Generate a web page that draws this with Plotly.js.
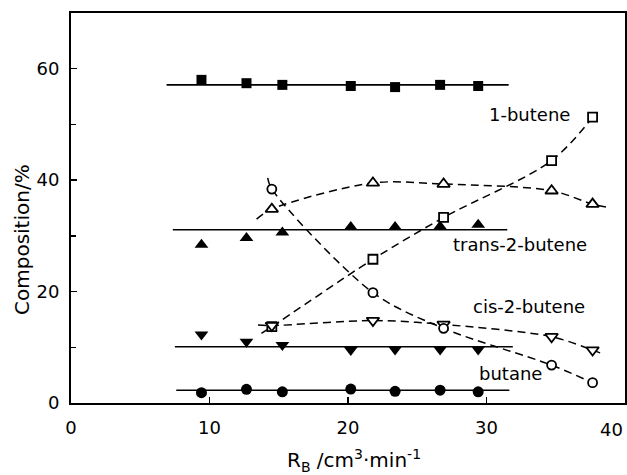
<!DOCTYPE html>
<html>
<head>
<meta charset="utf-8">
<script src="https://cdn.plot.ly/plotly-3.0.1.min.js"></script>
<style>
  html, body { margin: 0; padding: 0; background: #fff; }
  #chart { width: 627px; height: 475px; }
</style>
</head>
<body>
<div id="chart"></div>
<script>
// Flow rates (R_B, cm3/min) of the two measurement sets
const filledX = [9.42, 12.67, 15.26, 20.2, 23.4, 26.65, 29.4];
const openX   = [14.5, 21.8, 26.9, 34.7, 37.66];

// Filled symbols (steady composition, %)
const sqFilled     = [58.0, 57.4, 57.1, 56.9, 56.7, 57.1, 56.9];
const triFilled    = [28.4, 29.6, 30.6, 31.6, 31.6, 31.7, 32.0];
const invTriFilled = [12.3, 11.0, 10.4, 9.5, 9.6, 9.6, 9.6];
const circFilled   = [1.85, 2.45, 2.0, 2.5, 2.1, 2.3, 2.0];

// Horizontal mean lines for the filled sets: level, start, end
const flatLevel = [57.1, 31.1, 10.1, 2.3];
const flatStart = [6.9, 7.35, 7.5, 7.6];
const flatEnd   = [31.6, 31.5, 31.9, 31.65];

// Open symbols (composition, %)
const sqOpen     = [13.7, 25.8, 33.3, 43.5, 51.3];
const triOpen    = [34.8, 39.5, 39.3, 38.1, 35.7];
const invTriOpen = [13.9, 14.8, 14.1, 11.9, 9.5];
const circOpen   = [38.4, 19.8, 13.4, 6.8, 3.65];

// Trend-curve end knots [x, y] for the open sets
const sqCurveStart = [13.75, 12.5],  sqCurveEnd = [37.9, 52.2];
const triCurveStart = [13.4, 33.0],  triCurveEnd = [38.8, 35.1];
const invCurveStart = [13.5, 14.0],  invCurveEnd = [38.3, 8.9];
const circCurveStart = [14.2, 40.4], circCurveEnd = [38.1, 3.2];

// Curve labels [text, x, y]
const labelText = ['1-butene', 'trans-2-butene', 'cis-2-butene', 'butane'];
const labelX = [33.07, 32.4, 33.1, 31.7];
const labelY = [51.7, 28.4, 17.3, 5.3];

const FONT = 'DejaVu Sans, sans-serif';
const INK = '#000';

const traces = [];

// Solid mean lines
flatLevel.forEach((lv, i) => {
  traces.push({
    x: [flatStart[i], flatEnd[i]], y: [lv, lv],
    mode: 'lines', line: {color: INK, width: 1.6},
    hoverinfo: 'skip', showlegend: false
  });
});

// Dashed trend curves
function curve(start, xs, ys, end) {
  return {
    x: [start[0]].concat(xs, [end[0]]),
    y: [start[1]].concat(ys, [end[1]]),
    mode: 'lines',
    line: {color: INK, width: 1.5, dash: '8px,5px', shape: 'spline', smoothing: 0.9},
    hoverinfo: 'skip', showlegend: false
  };
}
traces.push(curve(sqCurveStart, openX, sqOpen, sqCurveEnd));
traces.push(curve(triCurveStart, openX, triOpen, triCurveEnd));
traces.push(curve(invCurveStart, openX, invTriOpen, invCurveEnd));
traces.push(curve(circCurveStart, openX, circOpen, circCurveEnd));

// Markers: filled sets solid black, open sets white with black outline
function pts(xs, ys, symbol, size, open) {
  return {
    x: xs, y: ys, mode: 'markers', showlegend: false,
    marker: {
      symbol: symbol, size: size, color: open ? '#fff' : INK,
      line: {color: INK, width: open ? 1.8 : 0}
    }
  };
}
traces.push(pts(filledX, sqFilled, 'square', 10, false));
traces.push(pts(filledX, triFilled, 'triangle-up', 12, false));
traces.push(pts(filledX, invTriFilled, 'triangle-down', 12, false));
traces.push(pts(filledX, circFilled, 'circle', 11, false));
traces.push(pts(openX, sqOpen, 'square', 9, true));
traces.push(pts(openX, triOpen, 'triangle-up', 11, true));
traces.push(pts(openX, invTriOpen, 'triangle-down', 11, true));
traces.push(pts(openX, circOpen, 'circle', 9, true));

const annotations = labelText.map((t, i) => ({
  text: t, x: labelX[i], y: labelY[i], xref: 'x', yref: 'y',
  xanchor: 'center', yanchor: 'middle',
  showarrow: false, font: {family: FONT, size: 18, color: INK}
}));

// last x tick label kept inside the frame
annotations.push({
  text: '40', x: 40, y: 0, xref: 'x', yref: 'paper',
  xanchor: 'right', yanchor: 'top', yshift: -14, showarrow: false,
  font: {family: FONT, size: 18, color: INK}
});

// axis titles
annotations.push({
  text: 'Composition/%', textangle: -90,
  xref: 'paper', yref: 'paper', x: 0, y: 0.418, xshift: -49,
  xanchor: 'center', yanchor: 'middle',
  showarrow: false, font: {family: FONT, size: 20, color: INK}
});
annotations.push({
  text: 'R<sub>B</sub> /cm<sup>3</sup>·min<sup>-1</sup>',
  xref: 'paper', yref: 'paper', x: 0.511, y: -0.148,
  xanchor: 'center', yanchor: 'middle',
  showarrow: false, font: {family: FONT, size: 20, color: INK}
});

const layout = {
  width: 627, height: 475,
  margin: {l: 71, r: 2, t: 13, b: 72},
  paper_bgcolor: '#fff', plot_bgcolor: '#fff',
  font: {family: FONT, size: 18, color: INK},
  showlegend: false,
  xaxis: {
    range: [0, 40], tickvals: [0, 10, 20, 30, 40], ticktext: ['0', '10', '20', '30', ''],
    ticks: 'inside', ticklen: 6, tickwidth: 1.5, tickcolor: INK,
    showline: true, linewidth: 2, linecolor: INK, mirror: true,
    showgrid: false, zeroline: false, ticklabelstandoff: 7,
    tickfont: {family: FONT, size: 18, color: INK}
  },
  yaxis: {
    range: [0, 70], tickvals: [0, 20, 40, 60],
    ticks: 'inside', ticklen: 6, tickwidth: 1.5, tickcolor: INK,
    minor: {tickvals: [10, 30, 50], ticks: 'inside', ticklen: 5, tickwidth: 1.5, tickcolor: INK, showgrid: false},
    showline: true, linewidth: 2, linecolor: INK, mirror: true,
    showgrid: false, zeroline: false, ticklabelstandoff: 6,
    tickfont: {family: FONT, size: 18, color: INK}
  },
  annotations: annotations
};

Plotly.newPlot('chart', traces, layout, {staticPlot: true, displayModeBar: false});
</script>
</body>
</html>
